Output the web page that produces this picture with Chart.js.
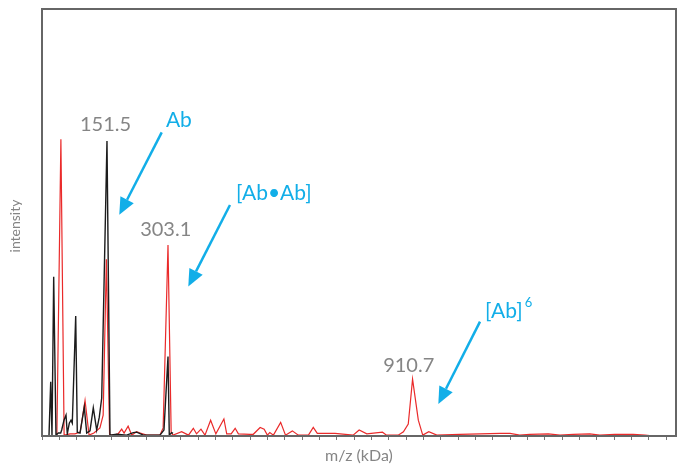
<!DOCTYPE html>
<html>
<head>
<meta charset="utf-8">
<script src="https://cdn.jsdelivr.net/npm/chart.js@4"></script>
<style>
  body { margin: 0; background: #fff; }
  #wrap { width: 683px; height: 468px; }
</style>
</head>
<body>
<div id="wrap"><canvas id="myChart" width="683" height="468"></canvas></div>
<script>
// m/z in kDa, intensity in % of full scale
var redMass = [27, 37, 45, 60, 72, 85, 97, 107, 119, 134, 142, 150, 158, 169, 179, 188, 194, 204, 213, 225, 234, 250, 283, 291, 303.1, 311, 316, 337, 354, 366, 374, 385, 395, 409, 422, 442, 449, 460, 470, 478, 507, 515, 532, 542, 550, 556, 565, 583, 595, 612, 627, 652, 664, 674, 697, 718, 763, 778, 797, 836, 846, 875, 888, 900, 910.7, 925, 936, 951, 971, 1028, 1128, 1153, 1177, 1202, 1248, 1277, 1310, 1351, 1376, 1413, 1459, 1488, 1500];
var redInt = [0.2, 69.5, 0.2, 0.5, 0.5, 0.9, 8.3, 0.2, 0.7, 1.9, 4.9, 41.4, 0.2, 0.2, 0.5, 1.6, 0.7, 2.3, 0.2, 1.0, 0.7, 0.2, 0.2, 1.9, 44.7, 0.7, 0.2, 1.0, 0.2, 1.8, 0.5, 1.6, 0.2, 3.7, 0.5, 4.0, 0.5, 0.5, 1.8, 0.5, 0.4, 0.4, 2.0, 1.6, 0.2, 0.8, 0.2, 3.2, 0.2, 1.2, 0.2, 0.2, 2.0, 0.6, 0.6, 0.6, 0.2, 1.4, 0.5, 0.9, 0.2, 0.2, 1.0, 2.8, 13.3, 3.7, 0.2, 1.0, 0.2, 0.4, 0.6, 0.6, 0.2, 0.4, 0.5, 0.2, 0.4, 0.5, 0.2, 0.4, 0.4, 0.2, 0.1];

var blackMass = [7.5, 11.7, 14.9, 19.1, 24.8, 30.6, 36.5, 39, 44.7, 49.7, 52.9, 57.9, 62.1, 65.3, 73.8, 77.7, 84.5, 95.1, 101.1, 109.3, 117.5, 125.9, 132.4, 138.4, 151.5, 159, 175.6, 200.5, 216.9, 225.3, 241.7, 283.2, 293.1, 303.1, 306.3, 312.2, 315.5];
var blackInt = [0.2, 12.7, 0.2, 37.3, 0.2, 0.7, 0.7, 1.4, 3.7, 4.9, 0.5, 3.0, 3.7, 3.0, 28.1, 0.9, 0.7, 6.8, 0.7, 1.2, 6.6, 1.4, 4.4, 8.9, 69.1, 0.2, 0.4, 0.2, 0.8, 0.9, 0.2, 0.2, 1.4, 18.6, 0.2, 0.8, 0.6];

// unlabelled minor ticks along m/z
var tickStart = -9.2;
var tickStep = 43.06;
var tickCount = 37;

// annotations: [text, mass, intensity]
var peakLabels = [['151.5', 147.8, 72.9], ['303.1', 297.4, 48.3], ['910.7', 901.1, 16.6]];
var speciesLabels = [['Ab', 298, 74.0, ''], ['[Ab\u2022Ab]', 472, 56.8, ''], ['[Ab]', 1090.7, 29.3, '6']];
var arrows = [[287.5, 71.1, 182.1, 51.8], [457.1, 54.1, 353.5, 35.0], [1078.3, 26.8, 974.7, 7.5]];

var blue = '#12aee8';
var grey = '#858585';
var font = 'Lato, "Open Sans", sans-serif';

function toPoints(xs, ys) {
    return xs.map(function (x, i) { return { x: x, y: ys[i] }; });
}

var annotate = {
    id: 'annotate',
    afterDraw: function (chart) {
        var ctx = chart.ctx;
        var xs = chart.scales.x;
        var ys = chart.scales.y;
        var a = chart.chartArea;

        // frame
        ctx.save();
        ctx.strokeStyle = '#666';
        ctx.lineWidth = 2;
        ctx.strokeRect(a.left, a.top, a.right - a.left, a.bottom - a.top);

        ctx.textBaseline = 'middle';
        ctx.fillStyle = grey;
        ctx.textAlign = 'center';
        ctx.font = '20px ' + font;
        peakLabels.forEach(function (p) {
            ctx.fillText(p[0], xs.getPixelForValue(p[1]), ys.getPixelForValue(p[2]));
        });

        ctx.fillStyle = blue;
        ctx.textAlign = 'left';
        speciesLabels.forEach(function (s) {
            var x = xs.getPixelForValue(s[1]);
            var y = ys.getPixelForValue(s[2]);
            ctx.font = '21px ' + font;
            ctx.fillText(s[0], x, y);
            if (s[3]) {
                var w = ctx.measureText(s[0]).width;
                ctx.font = '13px ' + font;
                ctx.fillText(s[3], x + w + 2, y - 8);
            }
        });

        ctx.strokeStyle = blue;
        ctx.lineWidth = 2.5;
        arrows.forEach(function (r) {
            var x1 = xs.getPixelForValue(r[0]), y1 = ys.getPixelForValue(r[1]);
            var x2 = xs.getPixelForValue(r[2]), y2 = ys.getPixelForValue(r[3]);
            var ang = Math.atan2(y2 - y1, x2 - x1);
            var hl = 17, hw = 7.5;
            var bx = x2 - hl * Math.cos(ang), by = y2 - hl * Math.sin(ang);
            ctx.beginPath();
            ctx.moveTo(x1, y1);
            ctx.lineTo(bx, by);
            ctx.stroke();
            ctx.beginPath();
            ctx.moveTo(x2, y2);
            ctx.lineTo(bx + hw * Math.sin(ang), by - hw * Math.cos(ang));
            ctx.lineTo(bx - hw * Math.sin(ang), by + hw * Math.cos(ang));
            ctx.closePath();
            ctx.fillStyle = blue;
            ctx.fill();
        });

        // axis titles
        ctx.fillStyle = grey;
        ctx.textAlign = 'center';
        ctx.font = '16px ' + font;
        ctx.fillText('m/z (kDa)', (a.left + a.right) / 2, 456);
        ctx.translate(15, 226);
        ctx.rotate(-Math.PI / 2);
        ctx.font = '14px ' + font;
        ctx.fillText('intensity', 0, 0);
        ctx.restore();
    }
};

const data = {
    datasets: [{
        label: 'red',
        data: toPoints(redMass, redInt),
        borderColor: '#ea2a2a',
        borderWidth: 1.2,
        pointRadius: 0,
        tension: 0,
        order: 2
    }, {
        label: 'black',
        data: toPoints(blackMass, blackInt),
        borderColor: '#1c1c1c',
        borderWidth: 1.4,
        pointRadius: 0,
        tension: 0,
        order: 1
    }]
};

const config = {
    type: 'line',
    data: data,
    plugins: [annotate],
    options: {
        responsive: false,
        animation: false,
        layout: { padding: { left: 42, top: 9, right: 7, bottom: 28 } },
        plugins: { legend: { display: false }, tooltip: { enabled: false } },
        scales: {
            x: {
                type: 'linear',
                min: -9.94,
                max: 1565.2,
                afterBuildTicks: function (scale) {
                    var t = [];
                    for (var i = 0; i < tickCount; i++) t.push({ value: tickStart + i * tickStep });
                    scale.ticks = t;
                },
                ticks: { display: false, autoSkip: false },
                grid: { drawOnChartArea: false, drawTicks: true, tickLength: 4, color: '#777' },
                border: { display: false }
            },
            y: {
                display: false,
                min: 0,
                max: 100
            }
        }
    }
};

const myChart = new Chart(document.getElementById('myChart'), config);
</script>
</body>
</html>
